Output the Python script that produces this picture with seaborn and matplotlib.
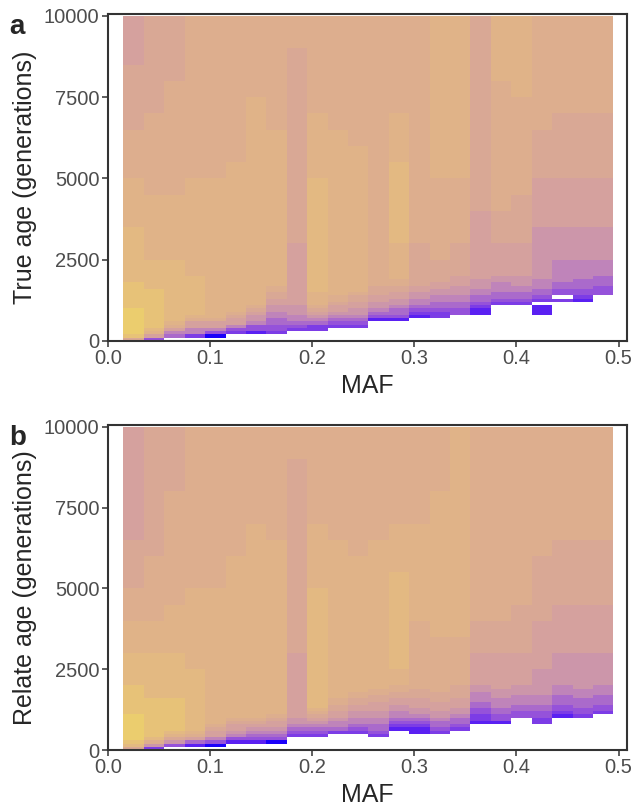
import matplotlib
matplotlib.use("Agg")
import matplotlib.pyplot as plt
from matplotlib.colors import ListedColormap
import pandas as pd
import seaborn as sns

# MAF bins (24 columns) and age bins (fine near 0, coarser above 2000)
maf_edges = [0.015, 0.035, 0.055, 0.075, 0.095, 0.115, 0.135, 0.155, 0.175,
             0.195, 0.215, 0.235, 0.255, 0.275, 0.295, 0.315, 0.335, 0.355,
             0.375, 0.395, 0.415, 0.435, 0.455, 0.475, 0.495]
age_edges = [0, 100, 200, 300, 400, 500, 600, 700, 800, 900, 1000, 1100, 1200,
             1300, 1400, 1500, 1600, 1700, 1800, 1900, 2000, 2500, 3000, 3500,
             4000, 4500, 5000, 5500, 6000, 6500, 7000, 7500, 8000, 8500, 9000,
             9500, 10000]

# colour levels (blue = lowest, yellow = highest)
level_codes = "0123456789abcd"
level_colors = ["#1a00fa", "#5a20f2", "#7c3ce6", "#9552da", "#aa6acb",
                "#bf84ba", "#cc96aa", "#d5a19e", "#d9a895", "#ddae8e",
                "#e0b388", "#e3b982", "#e7c278", "#ebcd6e"]

# one string per MAF column, one character per age bin (bottom -> top), '.' = empty
true_age = [
    "8cdddddddd" "ccccccccbb" "bbbaaa9998888777",
    "37abcccccc" "ccccccbbbb" "baaaa99999888888",
    ".4579abbbb" "bbbbbbbbbb" "baaaa99999998888",
    ".255779abb" "bbbbbbbbbb" "aaaaaa9999999999",
    ".035779aaa" "aaaaaaaaaa" "aaaaaa9999999999",
    "..2357789a" "aaaaaaaaaa" "aaaaaaa999999999",
    "..13356678" "9aaaaaaaaa" "aaaaaaaaaaa99999",
    "..23344556" "6778899aaa" "aaaaaaaaa9999999",
    "...2345566" "6777777777" "7788888888888899",
    "...2245678" "9aaaabbbbb" "bbbbbbaaaa999999",
    "....234567" "7899aaaaaa" "aaaaaaaaa9999999",
    "....234566" "77889aaaaa" "aaaaaaaa99999999",
    "......1345" "6677888999" "9999999999999999",
    "......1344" "566778899a" "aabbbbbaaa999999",
    ".......123" "4556677888" "8899999999999999",
    ".......223" "4455667788" "899999aaaaaaaaaa",
    "........33" "4455666777" "889999aaaaaaaaaa",
    "........11" "2344556667" "7777888888888888",
    ".........." ".234455566" "778899999999aaaa",
    ".........." ".234455666" "77888999999aaaaa",
    "........11" "1.23445556" "6667778889999999",
    ".........." "..2.334455" "5667778888999999",
    ".........." "..12334445" "5667778888999999",
    ".........." "....333444" "5667778888999999",
]

relate_age = [
    "8bcddddddd" "dccccccccc" "bbaa998887777777",
    "269bcccccc" "ccccccbbbb" "bbaa999988888888",
    ".368abcccc" "ccccccbbbb" "bbaaa99999998888",
    ".1479abbbb" "bbbbbbbbbb" "baaaaa9999999999",
    ".0357789aa" "aaaaaaaaaa" "aaaaaa9999999999",
    "..13567789" "aaaaaaaaaa" "aaaaaaaa99999999",
    "..13456789" "aaaaaaaaaa" "aaaaaaaaaa999999",
    "..03456778" "9aaaaaaaaa" "aaaaaaaaa9999999",
    "....234566" "7777777777" "7788888888888899",
    "....234567" "89abbbbbbb" "bbbbbbaaaa999999",
    ".....24556" "778899aaaa" "aaaaaaaaa9999999",
    ".....23455" "66778899aa" "aaaaaaaa99999999",
    "....234455" "667778899a" "aaaaaaaaa9999999",
    "......1234" "5566778899" "abbbbbbaaa999999",
    ".....11234" "5667778889" "9999aaaaaa999999",
    ".....23445" "6677788899" "999aaaaaaaaa9999",
    "......2344" "5667778888" "999aaaaaaaaaaaaa",
    "........12" "2334455566" "7788999999999999",
    "........13" "3445556667" "7788999999999999",
    ".........." "3344555666" "7788899999999999",
    "........22" "3344555666" "6777888899999999",
    ".........." "1233444555" "6677788889999999",
    ".........." "2334445556" "6677788889999999",
    ".........." ".233444555" "6677788889999999",
]


def to_frame(columns):
    rows = []
    for i, col in enumerate(columns):
        assert len(col) == len(age_edges) - 1, (i, len(col))
        for r, ch in enumerate(col):
            if ch == ".":
                continue
            rows.append({
                "maf": (maf_edges[i] + maf_edges[i + 1]) / 2,
                "age": (age_edges[r] + age_edges[r + 1]) / 2,
                "level": level_codes.index(ch) + 1,
            })
    return pd.DataFrame(rows)


sns.set_theme(style="ticks")
plt.rcParams["font.family"] = ["Liberation Sans", "DejaVu Sans"]

cmap = ListedColormap(level_colors)
fig = plt.figure(figsize=(6.33, 8.07), dpi=100)
ax_a = fig.add_axes([0.170, 0.5775, 0.820, 0.405])
ax_b = fig.add_axes([0.170, 0.0706, 0.820, 0.4027])

panels = [(ax_a, true_age, "True age (generations)", "a"),
          (ax_b, relate_age, "Relate age (generations)", "b")]

for ax, data, ylabel, tag in panels:
    df = to_frame(data)
    sns.histplot(data=df, x="maf", y="age", weights="level",
                 bins=[maf_edges, age_edges], cmap=cmap,
                 vmin=0.5, vmax=len(level_colors) + 0.5, ax=ax)
    ax.set_xlim(-0.0005, 0.508)
    ax.set_ylim(0, 10050)
    ax.set_xticks([0.0, 0.1, 0.2, 0.3, 0.4, 0.5])
    ax.set_yticks([0, 2500, 5000, 7500, 10000])
    ax.set_xticklabels(["0.0", "0.1", "0.2", "0.3", "0.4", "0.5"])
    ax.set_yticklabels(["0", "2500", "5000", "7500", "10000"])
    ax.set_xlabel("MAF", fontsize=18, labelpad=4)
    ax.set_ylabel(ylabel, fontsize=18, labelpad=5)
    ax.tick_params(axis="both", labelsize=14.5, labelcolor="#4d4d4d",
                   length=4, width=1.1, color="#333333", pad=2)
    for side in ["top", "right", "bottom", "left"]:
        ax.spines[side].set_visible(True)
        ax.spines[side].set_color("#333333")
        ax.spines[side].set_linewidth(1.5)
    ax.grid(False)
    # panel letter
    bbox = ax.get_position()
    fig.text(0.015, bbox.y1 - 0.025, tag, fontsize=20, fontweight="bold",
             ha="left", va="baseline")

fig.savefig("out.png", dpi=100)
